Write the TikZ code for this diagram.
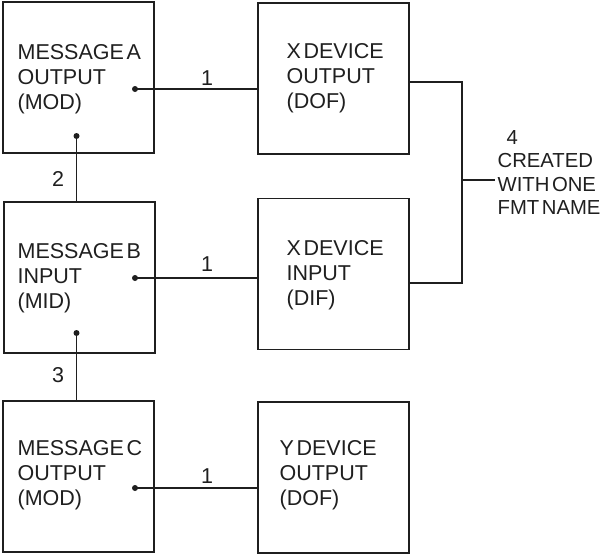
\documentclass[tikz,border=0pt]{standalone}
\usepackage{fontspec}
\setmainfont{Liberation Sans}[WordSpace=0.45]
\usetikzlibrary{calc}
\begin{document}
\begin{tikzpicture}[x=1pt,y=-1pt, line width=1.2pt, color={black!88},
 box/.style={draw, minimum width=151pt, minimum height=151pt, inner sep=0pt},
 txt/.style={align=left, font=\fontsize{21.5}{25}\selectfont, inner sep=0pt, anchor=west},
 lbl/.style={font=\fontsize{21.5}{25}\selectfont, inner sep=0pt},
 dot/.style={circle, fill, inner sep=0pt, minimum size=6pt}]
\useasboundingbox (0,0) rectangle (611,554);
% boxes
\node[box] (A) at (78.5,77.5) {};
\node[box] (XDO) at (333.5,78.5) {};
\node[box] (B) at (79.5,277.5) {};
\node[box] (XDI) at (333.5,274) {};
\node[box] (C) at (78.5,476.5) {};
\node[box] (Y) at (333.5,477.5) {};
% texts
\node[txt] (tA) at (17,79.5) {MESSAGE A\\OUTPUT\\(MOD)};
\node[txt] (tXDO) at (286,78.5) {X DEVICE\\OUTPUT\\(DOF)};
\node[txt] (tB) at (17,278.5) {MESSAGE B\\INPUT\\(MID)};
\node[txt] (tXDI) at (286,275.5) {X DEVICE\\INPUT\\(DIF)};
\node[txt] (tC) at (17,475.5) {MESSAGE C\\OUTPUT\\(MOD)};
\node[txt] (tY) at (279,475.5) {Y DEVICE\\OUTPUT\\(DOF)};
% dots
\node[dot] (dA) at (135,89) {};
\node[dot] (dA2) at (76.5,136) {};
\node[dot] (dB) at (135,278) {};
\node[dot] (dB2) at (76.5,333) {};
\node[dot] (dC) at (135,488) {};
% connectors
\draw (dA.center) -- (dA.center -| XDO.west);
\draw (dB.center) -- (dB.center -| XDI.west);
\draw (dC.center) -- (dC.center -| Y.west);
\draw (dA2.center) -- (dA2.center |- B.north);
\draw (dB2.center) -- (dB2.center |- C.north);
\coordinate (r1) at ([yshift=-3.5pt]XDO.east);
\coordinate (r2) at ([yshift=-9pt]XDI.east);
\coordinate (rj) at (462,180);
\coordinate (re) at (495,180);
\draw (r1) -| (rj) |- (r2);
\draw (rj) -- (re);
% labels
\node[lbl] (l1a) at (207,78) {1};
\node[lbl] (l1b) at (207,264) {1};
\node[lbl] (l1c) at (207,476) {1};
\node[lbl] (l2) at (58,179) {2};
\node[lbl] (l3) at (58,375) {3};
\node[txt, font=\fontsize{20.3}{23.2}\selectfont] (note) at (497,172.5) {\hspace*{9pt}4\\CREATED\\WITH ONE\\FMT NAME};
\end{tikzpicture}
\end{document}
